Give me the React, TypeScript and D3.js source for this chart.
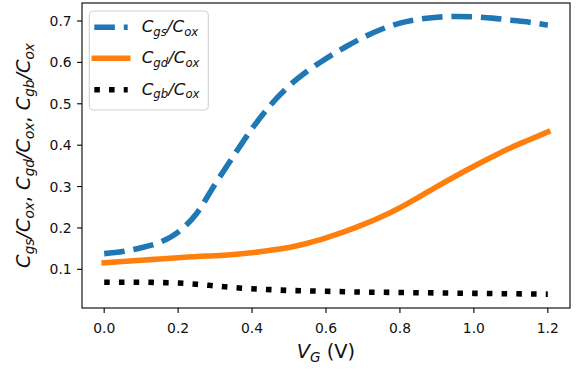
import React from "react";
import * as d3 from "d3";

const VG = [0, 0.05, 0.1, 0.15, 0.2, 0.25, 0.3, 0.35, 0.4, 0.45, 0.5, 0.55, 0.6, 0.65, 0.7, 0.75, 0.8, 0.85, 0.9, 0.95, 1.0, 1.05, 1.1, 1.15, 1.2];
const CGS = [0.138, 0.143, 0.152, 0.165, 0.19, 0.235, 0.306, 0.374, 0.44, 0.497, 0.543, 0.579, 0.609, 0.636, 0.66, 0.68, 0.695, 0.704, 0.709, 0.711, 0.71, 0.707, 0.702, 0.697, 0.69];
const CGD = [0.116, 0.119, 0.122, 0.125, 0.128, 0.131, 0.133, 0.136, 0.14, 0.146, 0.153, 0.163, 0.176, 0.191, 0.208, 0.227, 0.249, 0.274, 0.3, 0.325, 0.349, 0.372, 0.394, 0.413, 0.432];
const CGB = [0.069, 0.069, 0.069, 0.068, 0.067, 0.064, 0.06, 0.056, 0.053, 0.051, 0.049, 0.048, 0.047, 0.046, 0.045, 0.0445, 0.044, 0.0435, 0.043, 0.0425, 0.042, 0.0415, 0.041, 0.0405, 0.04];

const X_TICKS = [0, 0.2, 0.4, 0.6, 0.8, 1.0, 1.2];
const Y_TICKS = [0.1, 0.2, 0.3, 0.4, 0.5, 0.6, 0.7];

const SERIES = [
  { name: "gs", values: CGS, color: "#1f77b4", dash: "20.6 8.9" },
  { name: "gd", values: CGD, color: "#ff7f0e", dash: "" },
  { name: "gb", values: CGB, color: "#000000", dash: "5.56 9.17" },
];

const FONT = "DejaVu Sans, sans-serif";
const TXT = "#111";

function mathC(sub: string, fs: number, after: string, key: string) {
  const s = fs * 0.7;
  const d = fs * 0.2;
  const out = [
    <tspan key={key + "a"} fontStyle="italic">C</tspan>,
    <tspan key={key + "b"} fontStyle="italic" fontSize={s} dy={d}>{sub}</tspan>,
    <tspan key={key + "c"} fontStyle="italic" dy={-d}>/C</tspan>,
    <tspan key={key + "d"} fontStyle="italic" fontSize={s} dy={d}>ox</tspan>,
  ];
  if (after) out.push(<tspan key={key + "e"} dy={-d}>{after}</tspan>);
  return out;
}

export default function App() {
  const W = 580, H = 373;
  const L = 82, R = 570, T = 3, B = 308;
  const x = d3.scaleLinear().domain([-0.06, 1.26]).range([L, R]);
  const y = d3.scaleLinear().domain([0.0066, 0.7435]).range([B, T]);
  const lw = 5.56;
  const line = d3
    .line<number>()
    .x((_, i) => x(VG[i]))
    .y((v) => y(v))
    .curve(d3.curveMonotoneX);

  const legendRows = [27.3, 58.3, 89.7];

  return (
    <svg width={W} height={H} style={{ position: "absolute", left: 0, top: 0, background: "#fff" }} fontFamily={FONT}>
      <rect x={0} y={0} width={W} height={H} fill="#fff" />
      {SERIES.map((s) => (
        <path
          key={s.name}
          d={line(s.values) || ""}
          fill="none"
          stroke={s.color}
          strokeWidth={lw}
          strokeDasharray={s.dash || undefined}
          strokeLinecap={s.dash ? "butt" : "square"}
        />
      ))}
      <rect x={L} y={T} width={R - L} height={B - T} fill="none" stroke="#000" strokeWidth={1.1} />
      {X_TICKS.map((t) => (
        <g key={"x" + t}>
          <line x1={x(t)} x2={x(t)} y1={B} y2={B + 4.9} stroke="#000" strokeWidth={1.1} />
          <text x={x(t)} y={333} fontSize={13.9} textAnchor="middle" fill={TXT}>
            {t.toFixed(1)}
          </text>
        </g>
      ))}
      {Y_TICKS.map((t) => (
        <g key={"y" + t}>
          <line x1={L - 4.9} x2={L} y1={y(t)} y2={y(t)} stroke="#000" strokeWidth={1.1} />
          <text x={71.7} y={y(t) + 5} fontSize={13.9} textAnchor="end" fill={TXT}>
            {t.toFixed(1)}
          </text>
        </g>
      ))}
      <text x={326} y={358} fontSize={19.4} textAnchor="middle" fill={TXT}>
        <tspan fontStyle="italic">V</tspan>
        <tspan fontStyle="italic" fontSize={19.4 * 0.7} dy={4}>G</tspan>
        <tspan dy={-4}> (V)</tspan>
      </text>
      <text transform={`translate(30,155.5) rotate(-90)`} fontSize={19.4} textAnchor="middle" fill={TXT}>
        {mathC("gs", 19.4, ", ", "p1")}
        {mathC("gd", 19.4, ", ", "p2")}
        {mathC("gb", 19.4, "", "p3")}
      </text>
      <rect x={89.3} y={11} width={119} height={99} rx={4} fill="#fff" fillOpacity={0.8} stroke="#d0d0d0" strokeWidth={1.1} />
      {SERIES.map((s, i) => (
        <g key={"leg" + s.name}>
          <line
            x1={94.3}
            x2={127.7}
            y1={legendRows[i]}
            y2={legendRows[i]}
            stroke={s.color}
            strokeWidth={lw}
            strokeDasharray={s.dash || undefined}
            strokeLinecap={s.dash ? "butt" : "square"}
          />
          <text x={141.7} y={legendRows[i] + 5} fontSize={16.7} fill={TXT}>
            {mathC(s.name, 16.7, "", "l" + i)}
          </text>
        </g>
      ))}
    </svg>
  );
}
